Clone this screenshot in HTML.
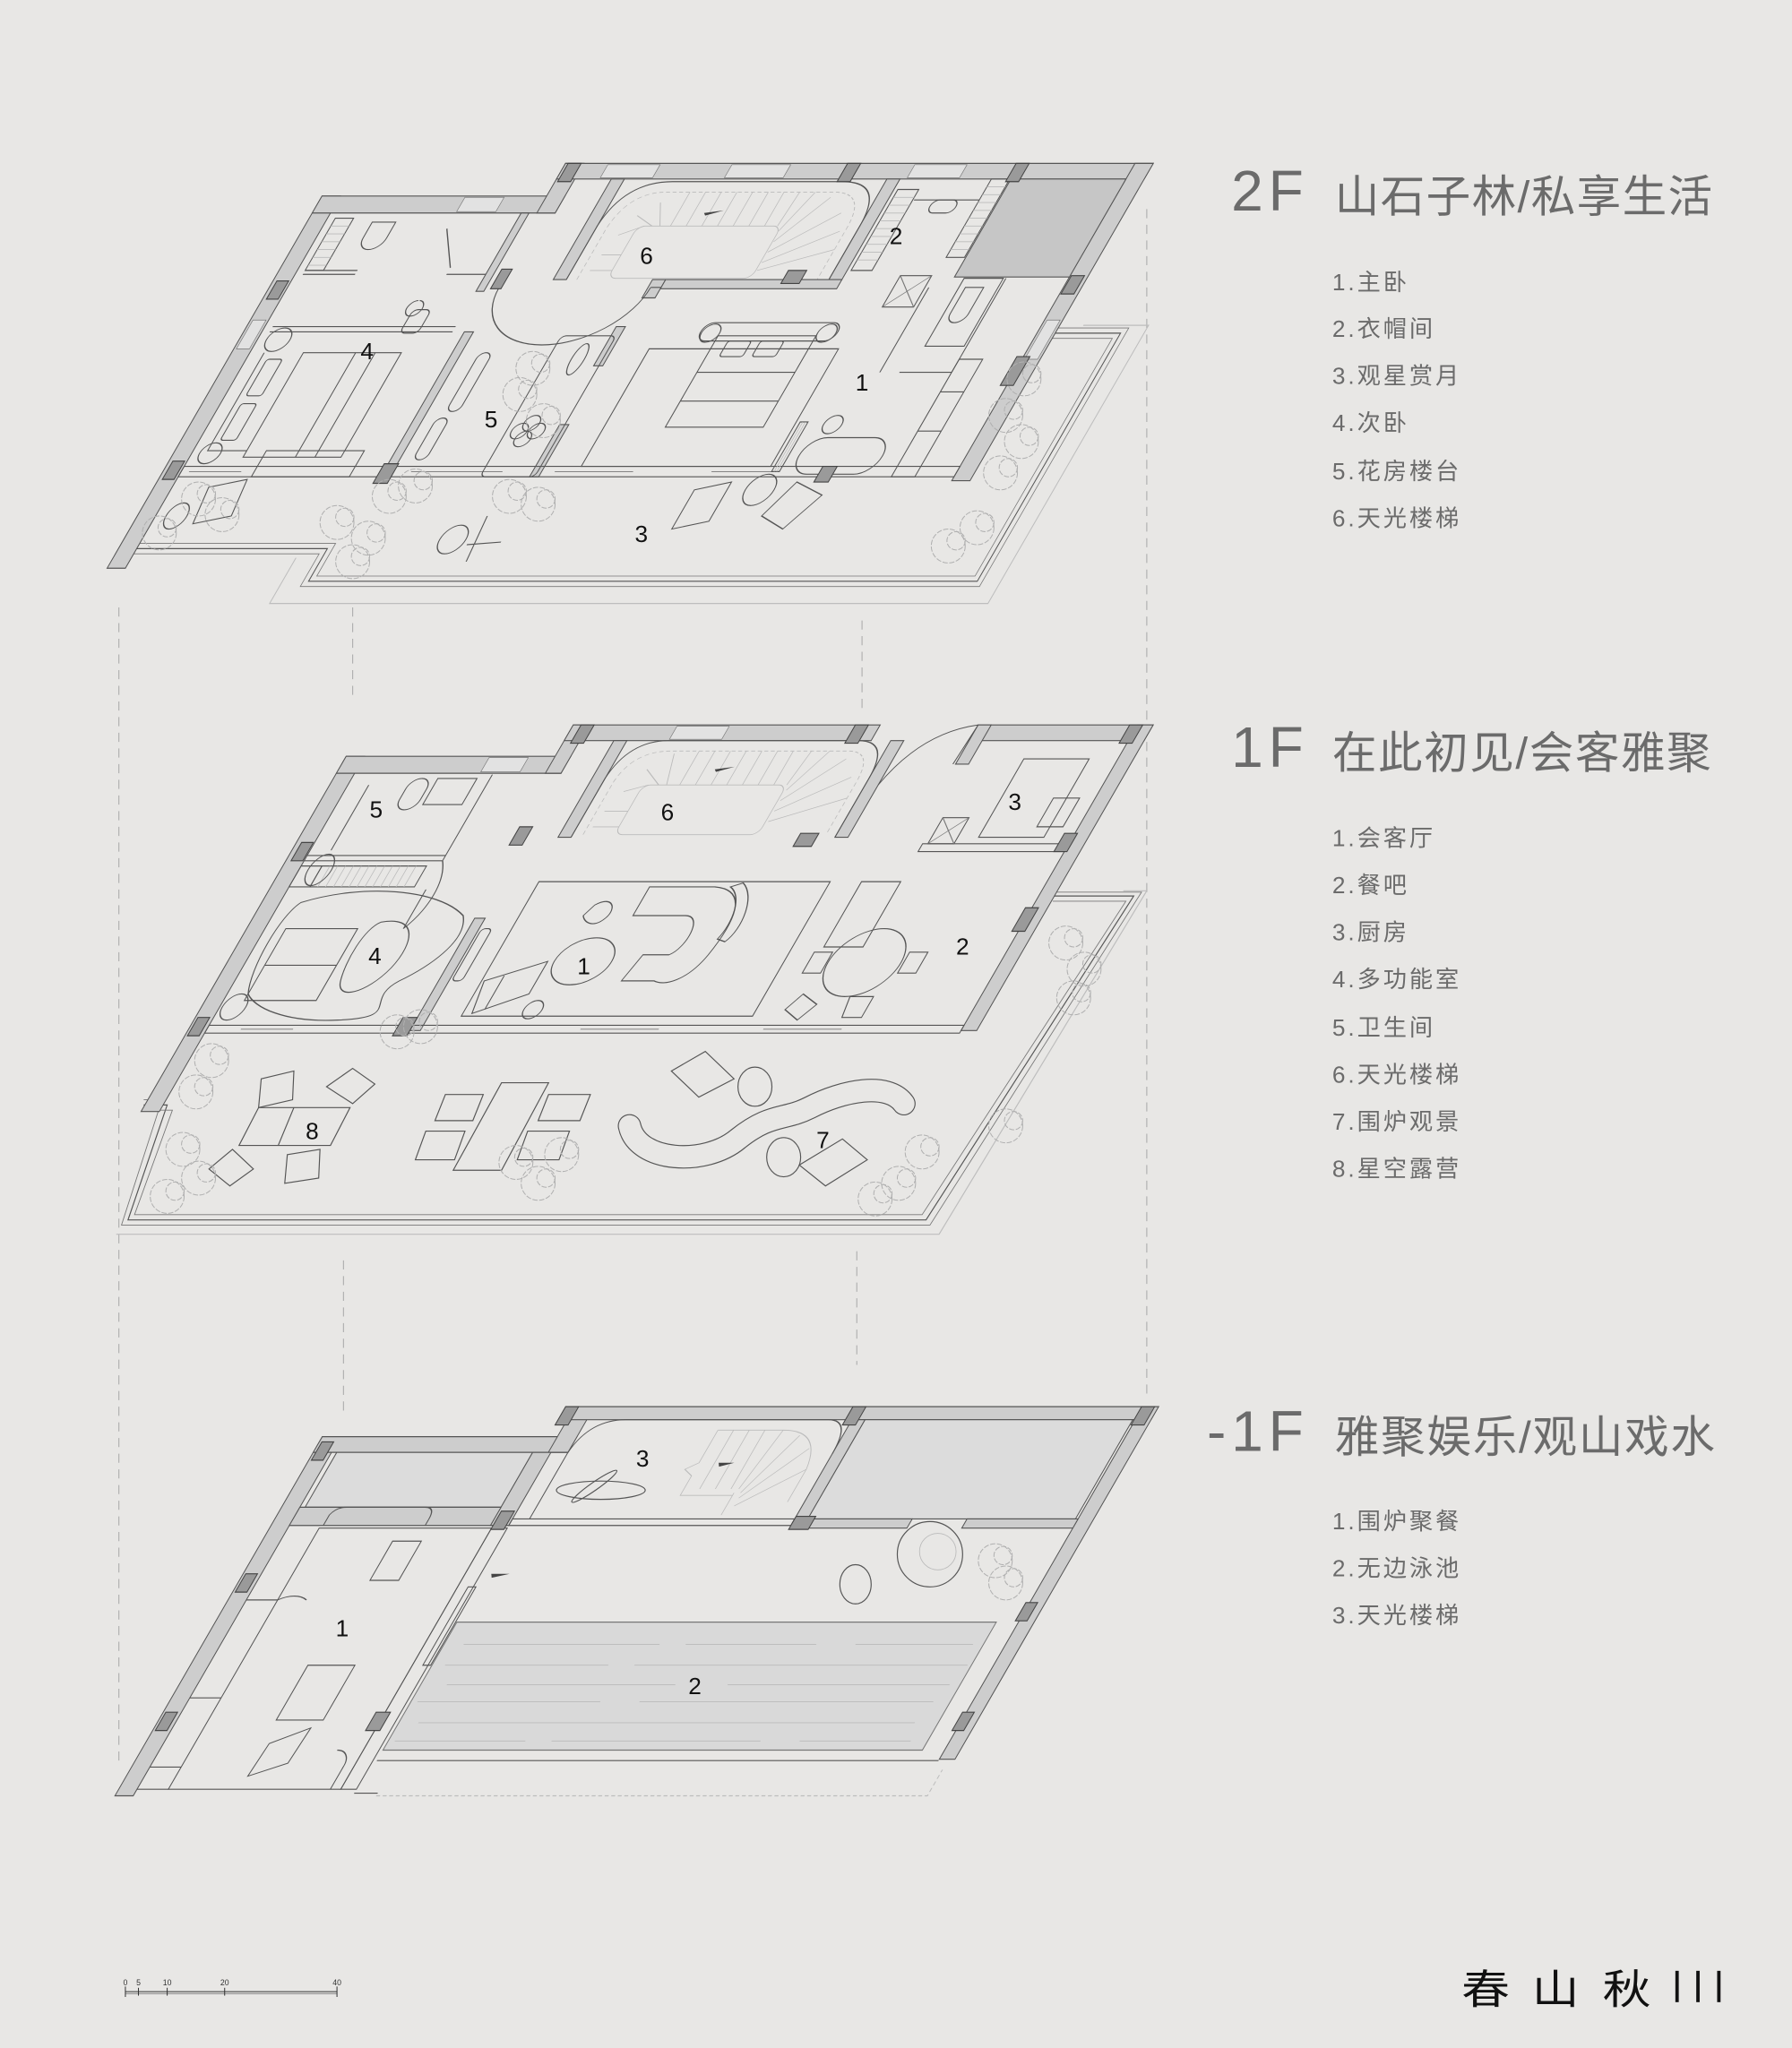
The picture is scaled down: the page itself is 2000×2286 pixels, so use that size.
<!DOCTYPE html>
<html><head><meta charset="utf-8"><style>
html,body{margin:0;padding:0;background:#e8e7e5;}
svg{display:block}
.w{fill:#cdcdcd;stroke:#555;stroke-width:.8}
.l{fill:none;stroke:#555;stroke-width:.8}
.lt{fill:none;stroke:#777;stroke-width:.6}
.f{fill:none;stroke:#bdbdbd;stroke-width:.8}
.c{fill:#9a9a9a;stroke:#444;stroke-width:.8}
.st{fill:none;stroke:#bbb;stroke-width:.6}
.win{fill:#e2e2e2;stroke:#777;stroke-width:.5}
.tr{fill:none;stroke:#b0b0b0;stroke-width:.7;stroke-dasharray:4 1.2}
.n{font-family:"Liberation Sans",sans-serif;font-size:18px;fill:#111;text-anchor:middle}
.tt{font-family:"Liberation Sans","Noto Sans CJK SC",sans-serif;fill:#6b6b6b}
.it{font-family:"Liberation Sans","Noto Sans CJK SC",sans-serif;font-size:18px;fill:#6b6b6b;letter-spacing:2px}
.dash{stroke:#b0b0b0;stroke-width:.8;stroke-dasharray:7 5;fill:none}
</style></head><body>
<svg width="2000" height="2286" viewBox="0 0 1372 1568" xmlns="http://www.w3.org/2000/svg">
<defs>
<g id="tree"><circle r="13" class="tr"/><circle cx="6" cy="-4" r="7" class="tr"/></g>
</defs>
<rect width="1372" height="1568" fill="#e8e7e5"/>

<line class="dash" x1="91" y1="465" x2="91" y2="1350"/>
<line class="dash" x1="270" y1="465" x2="270" y2="535"/>
<line class="dash" x1="660" y1="475" x2="660" y2="545"/>
<line class="dash" x1="878" y1="160" x2="878" y2="1068"/>
<line class="dash" x1="263" y1="965" x2="263" y2="1082"/>
<line class="dash" x1="656" y1="958" x2="656" y2="1045"/>

<!-- ============ 2F ============ -->
<g transform="translate(82,435) skewX(-30)">
 <path class="f" d="M140 -8 V27 H690 V-186 H640"/>
 <path class="l" d="M14 -15 H160 V10 H672 V-180 H622"/>
 <path class="lt" d="M14 -11 H156 V14 H676 V-184 H622"/>
 <path class="lt" d="M14 -19 H164 V6 H668 V-176 H622"/>
 <rect class="w" x="0" y="-285" width="14" height="285"/>
 <rect class="w" x="0" y="-285" width="186" height="13"/>
 <rect class="w" x="172" y="-310" width="14" height="38"/>
 <rect class="w" x="172" y="-310" width="450" height="12"/>
 <rect class="w" x="608" y="-310" width="14" height="243"/>
 <rect x="520" y="-298" width="88" height="75" fill="#c6c6c6" stroke="#555" stroke-width=".8"/>
 <rect class="win" x="110" y="-284" width="30" height="11"/>
 <rect class="win" x="205" y="-309" width="40" height="10"/>
 <rect class="win" x="300" y="-309" width="45" height="10"/>
 <rect class="win" x="440" y="-309" width="40" height="10"/>
 <rect class="win" x="2" y="-190" width="10" height="22"/>
 <rect class="win" x="610" y="-190" width="10" height="30"/>
 <rect class="w" x="214" y="-298" width="10" height="77"/>
 <rect class="w" x="425" y="-298" width="10" height="77"/>
 <path class="l" d="M224 -221 V-262 Q226 -296 262 -296 H392 Q425 -296 425 -262 V-221"/>
 <g class="st">
  <path d="M232 -221 V-260 Q234 -288 262 -288 H390 Q416 -288 416 -260 V-221" stroke-dasharray="3 2"/>
  <rect x="255" y="-262" width="110" height="40" rx="6"/>
  <path d="M240 -240H255M238 -228H255M244 -255L260 -262M250 -270L266 -262M262 -280L272 -262M280 -288V-262M292 -288V-262M304 -288V-262M316 -288V-262M328 -288V-262M340 -288V-262M352 -288V-262M364 -288L362 -262M376 -288L365 -258M390 -284L366 -250M405 -272L366 -242M412 -258L366 -234M416 -244L366 -228"/>
 </g>
 <path d="M300 -272 l14 -2 l-12 4z" fill="#444"/>
 <rect class="w" x="300" y="-221" width="135" height="7"/>
 <path class="w" d="M290 -221 h10 v14 h-10z"/>
 <rect class="l" x="438" y="-290" width="16" height="62"/>
 <path class="st" d="M438 -284h16M438 -278h16M438 -272h16M438 -266h16M438 -260h16M438 -254h16M438 -248h16M438 -242h16M438 -236h16"/>
 <rect class="l" x="505" y="-298" width="14" height="60"/>
 <path class="st" d="M505 -292h14M505 -286h14M505 -280h14M505 -274h14M505 -268h14M505 -262h14M505 -256h14M505 -250h14M505 -244h14"/>
 <rect class="l" x="470" y="-282" width="20" height="10" rx="5"/>
 <path class="l" d="M455 -282 H505"/>
 <rect class="l" x="478" y="-224" width="24" height="24"/>
 <path class="lt" d="M478 -224l24 24M502 -224l-24 24"/>
 <rect class="l" x="528" y="-222" width="30" height="52"/>
 <path class="l" d="M533 -215 h14 v20 a7 7 0 0 1 -14 0z"/>
 <path class="l" d="M505 -215 V-150 M560 -222 V-150 M520 -150 H560"/>
 <rect class="w" x="160" y="-272" width="6" height="60"/>
 <path class="l" d="M20 -181 H160 M20 -185 H160"/>
 <rect class="w" x="169" y="-181" width="7" height="114"/>
 <rect class="w" x="283" y="-185" width="7" height="30"/>
 <rect class="w" x="283" y="-110" width="7" height="40"/>
 <path class="l" d="M176 -215 A58 44 0 0 0 292 -215 M176 -215 V-225 M292 -215 H300"/>
 <path class="l" d="M20 -225 H60 M20 -228 H60 M130 -225 H160"/>
 <rect class="l" x="20" y="-268" width="14" height="40"/>
 <path class="st" d="M20 -262h14M20 -256h14M20 -250h14M20 -244h14M20 -238h14M20 -232h14"/>
 <path class="l" d="M50 -265 h18 v12 a6 6 0 0 1 -18 0z"/>
 <path class="l" d="M110 -260 L130 -230 M120 -205 a6 6 0 1 0 1 0"/>
 <rect class="l" x="120" y="-198" width="14" height="18" rx="4"/>
 <rect class="l" x="14" y="-78" width="594" height="8"/>
 <path class="lt" d="M20 -74 H60 M190 -74 H260 M300 -74 H360 M420 -74 H470"/>
 <rect class="l" x="55" y="-165" width="75" height="80"/>
 <rect class="l" x="30" y="-160" width="12" height="28" rx="2"/>
 <rect class="l" x="30" y="-126" width="12" height="28" rx="2"/>
 <path class="l" d="M25 -165 V-90 H55 M95 -165 V-85 M110 -165 V-85"/>
 <circle class="l" cx="30" cy="-175" r="9"/>
 <circle class="l" cx="28" cy="-88" r="8"/>
 <rect class="l" x="70" y="-90" width="75" height="20"/>
 <rect class="l" x="190" y="-165" width="10" height="45" rx="5"/>
 <rect class="l" x="186" y="-115" width="10" height="32" rx="5"/>
 <rect class="l" x="245" y="-178" width="42" height="108" rx="4"/>
 <ellipse class="l" cx="268" cy="-160" rx="5" ry="12"/>
 <g class="l"><circle cx="255" cy="-105" r="6"/><circle cx="268" cy="-105" r="6"/><circle cx="261" cy="-99" r="6"/><circle cx="261" cy="-111" r="6"/></g>
 <rect class="l" x="318" y="-168" width="145" height="90"/>
 <rect class="l" x="350" y="-188" width="105" height="14" rx="7"/>
 <circle class="l" cx="358" cy="-180" r="7"/><circle class="l" cx="447" cy="-180" r="7"/>
 <rect class="l" x="365" y="-178" width="75" height="70"/>
 <rect class="l" x="375" y="-174" width="18" height="12" rx="2"/>
 <rect class="l" x="400" y="-174" width="18" height="12" rx="2"/>
 <path class="l" d="M365 -150 H440 M365 -128 H440"/>
 <rect class="l" x="480" y="-100" width="64" height="28" rx="14"/>
 <circle class="l" cx="492" cy="-110" r="7"/>
 <rect class="l" x="466" y="-112" width="6" height="38"/>
 <path class="st" d="M468 -112V-74M470 -112V-74"/>
 <rect class="l" x="560" y="-160" width="18" height="90"/>
 <path class="l" d="M560 -135 H578 M560 -105 H578"/>
 <g class="c">
  <rect x="174" y="-310" width="10" height="14"/><rect x="388" y="-310" width="10" height="14"/><rect x="517" y="-310" width="10" height="14"/>
  <rect x="3" y="-220" width="9" height="14"/><rect x="170" y="-229" width="8" height="15"/><rect x="390" y="-228" width="14" height="10"/>
  <rect x="609" y="-224" width="10" height="14"/><rect x="603" y="-162" width="10" height="22"/><rect x="3" y="-82" width="9" height="14"/>
  <rect x="166" y="-80" width="11" height="15"/><rect x="503" y="-78" width="11" height="12"/>
 </g>
 <path class="l" d="M42 -62 L68 -68 L72 -40 L46 -34z"/>
 <ellipse class="l" cx="30" cy="-40" rx="8" ry="10"/>
 <path class="l" d="M415 -60 L440 -66 L440 -36 L415 -30z"/>
 <ellipse class="l" cx="465" cy="-60" rx="11" ry="12"/>
 <path class="l" d="M490 -66 L515 -56 L500 -30 L478 -40z"/>
 <ellipse class="l" cx="252" cy="-22" rx="10" ry="11"/>
 <path class="l" d="M268 -40 L272 -5 M265 -18 L290 -20"/>
</g>
<g>
<use href="#tree" x="408" y="282"/><use href="#tree" x="398" y="302"/><use href="#tree" x="416" y="322"/>
<use href="#tree" x="390" y="380"/><use href="#tree" x="412" y="386"/>
<use href="#tree" x="152" y="382"/><use href="#tree" x="170" y="394"/><use href="#tree" x="122" y="408"/>
<use href="#tree" x="258" y="400"/><use href="#tree" x="282" y="412"/><use href="#tree" x="270" y="430"/>
<use href="#tree" x="784" y="290"/><use href="#tree" x="770" y="318"/><use href="#tree" x="782" y="338"/><use href="#tree" x="766" y="362"/>
<use href="#tree" x="726" y="418"/><use href="#tree" x="748" y="404"/><use href="#tree" x="298" y="380"/><use href="#tree" x="318" y="372"/>
</g>
<text class="n" x="660" y="299">1</text><text class="n" x="686" y="187">2</text><text class="n" x="491" y="415">3</text>
<text class="n" x="281" y="275">4</text><text class="n" x="376" y="327">5</text><text class="n" x="495" y="202">6</text>

<!-- ============ 1F ============ -->
<path class="f" d="M89 945 H719 L878 682 H860"/>
<path class="l" d="M110 846 H128 L98 934 H709 L868 686 H806"/>
<path class="lt" d="M110 842 H124 L93 938 H712 L874 683 H806"/>
<path class="lt" d="M112 850 H132 L103 930 H706 L862 690 H806"/>
<g transform="translate(108,851) skewX(-30)">
 <rect class="w" x="0" y="-272" width="14" height="272"/>
 <rect class="w" x="0" y="-272" width="172" height="13"/>
 <rect class="w" x="160" y="-296" width="12" height="37"/>
 <rect class="w" x="160" y="-296" width="235" height="12"/>
 <rect class="win" x="110" y="-271" width="30" height="11"/>
 <rect class="win" x="240" y="-295" width="40" height="10"/>
 <rect class="w" x="470" y="-296" width="134" height="12"/>
 <rect class="w" x="470" y="-296" width="10" height="30"/>
 <rect class="w" x="592" y="-296" width="12" height="234"/>
 <rect class="l" x="480" y="-205" width="112" height="6"/>
 <rect class="w" x="198" y="-284" width="10" height="74"/>
 <rect class="w" x="410" y="-284" width="10" height="74"/>
 <path class="l" d="M208 -210 V-255 Q210 -284 240 -284 H385 Q410 -284 410 -255 V-210"/>
 <g class="st">
  <path d="M216 -212 V-252 Q218 -276 246 -276 H382 Q402 -276 402 -252 V-212" stroke-dasharray="3 2"/>
  <rect x="240" y="-250" width="110" height="38" rx="6"/>
  <path d="M222 -230H240M220 -218H240M228 -245L244 -250M236 -262L252 -250M250 -274L258 -250M268 -276V-250M280 -276V-250M292 -276V-250M304 -276V-250M316 -276V-250M328 -276V-250M340 -276V-250M354 -276L350 -250M368 -276L352 -246M384 -270L352 -238M396 -256L352 -230M402 -240L352 -222"/>
 </g>
 <path d="M288 -262 l14 -2 l-12 4z" fill="#444"/>
 <path class="l" d="M420 -250 Q430 -290 470 -296 M470 -296 L468 -266"/>
 <rect class="l" x="520" y="-270" width="50" height="60"/>
 <rect class="l" x="560" y="-240" width="20" height="22"/>
 <rect class="l" x="484" y="-225" width="20" height="20"/>
 <path class="lt" d="M484 -225l20 20M504 -225l-20 20"/>
 <path class="l" d="M14 -192 H120 M14 -196 H120 M120 -258 V-192"/>
 <rect class="l" x="60" y="-255" width="16" height="24" rx="8"/>
 <rect class="l" x="80" y="-255" width="30" height="20"/>
 <path class="l" d="M30 -250 V-200"/>
 <rect class="l" x="30" y="-188" width="80" height="16"/>
 <path class="st" d="M36 -188v16M42 -188v16M48 -188v16M54 -188v16M60 -188v16M66 -188v16M72 -188v16M78 -188v16M84 -188v16M90 -188v16M96 -188v16M102 -188v16"/>
 <rect class="l" x="14" y="-188" width="16" height="16"/>
 <path class="l" d="M120 -192 A45 45 0 0 1 120 -140 M120 -170 V-140"/>
 <rect class="w" x="170" y="-148" width="8" height="86"/>
 <rect class="l" x="180" y="-140" width="8" height="40" rx="3"/>
 <rect class="l" x="14" y="-66" width="578" height="6"/>
 <path class="lt" d="M40 -63 H80 M300 -63 H360 M440 -63 H500"/>
 <path class="l" d="M30 -160 C70 -175 130 -170 160 -150 C175 -130 155 -110 140 -100 C120 -85 160 -72 110 -70 C70 -68 40 -80 30 -90 C20 -110 20 -150 30 -160z"/>
 <rect class="l" x="30" y="-140" width="55" height="55"/>
 <path class="l" d="M30 -112 H85"/>
 <path class="l" d="M100 -145 C125 -150 135 -130 128 -110 C120 -90 100 -85 95 -100 C90 -115 90 -140 100 -145z"/>
 <ellipse class="l" cx="30" cy="-185" rx="9" ry="12"/>
 <ellipse class="l" cx="25" cy="-80" rx="9" ry="10"/>
 <rect class="l" x="203" y="-176" width="223" height="103"/>
 <path class="l" d="M290 -172 H340 C365 -170 372 -150 365 -120 C360 -100 345 -96 335 -100 L310 -100 L315 -120 L335 -120 C345 -125 345 -150 330 -150 H290z"/>
 <path class="l" d="M360 -175 C375 -165 380 -140 372 -130 L365 -132 C370 -145 365 -165 352 -172z"/>
 <path class="l" d="M256 -158 C266 -166 275 -155 270 -148 C265 -140 255 -145 252 -150z"/>
 <ellipse class="l" cx="272" cy="-115" rx="22" ry="18"/>
 <path class="l" d="M205 -100 L245 -115 L245 -90 L210 -75z M218 -104 L218 -78"/>
 <circle class="l" cx="255" cy="-78" r="7"/>
 <rect class="l" x="450" y="-176" width="30" height="50"/>
 <ellipse class="l" cx="488" cy="-114" rx="28" ry="26"/>
 <rect class="l" x="445" y="-122" width="14" height="16"/>
 <rect class="l" x="518" y="-122" width="14" height="16"/>
 <path class="l" d="M455 -90 L470 -82 L462 -70 L448 -78z M492 -88 L510 -88 L510 -72 L495 -72z"/>
 <g class="c">
  <rect x="166" y="-296" width="10" height="14"/><rect x="376" y="-296" width="10" height="14"/><rect x="586" y="-296" width="10" height="14"/>
  <rect x="164" y="-218" width="10" height="14"/><rect x="382" y="-213" width="14" height="10"/><rect x="584" y="-213" width="10" height="14"/>
  <rect x="4" y="-206" width="9" height="14"/><rect x="587" y="-156" width="10" height="18"/><rect x="2" y="-72" width="9" height="14"/>
  <rect x="159" y="-72" width="11" height="14"/>
 </g>
</g>
<g class="l">
 <path d="M183 877 L198 848 L268 848 L253 877z M225 848 L213 877"/>
 <path d="M200 826 L225 820 L224 842 L198 848z"/>
 <path d="M250 832 L270 818 L287 830 L270 845z"/>
 <path d="M160 895 L178 880 L194 895 L176 908z"/>
 <path d="M220 884 L245 880 L244 902 L218 906z"/>
 <path d="M384 829 L420 829 L384 896 L347 896z"/>
 <path d="M341 838 L370 838 L362 858 L333 858z"/>
 <path d="M420 838 L452 838 L444 858 L412 858z"/>
 <path d="M326 866 L356 866 L348 888 L318 888z"/>
 <path d="M404 866 L436 866 L428 888 L396 888z"/>
 <path d="M514 820 L540 805 L562 826 L535 840z"/>
 <ellipse cx="578" cy="832" rx="13" ry="15"/>
 <ellipse cx="600" cy="886" rx="13" ry="15"/>
 <path d="M612 892 L645 872 L664 888 L632 908z"/>
</g>
<path d="M482 862 C488 890 540 893 565 872 C590 852 600 858 620 848 C645 835 680 828 692 845" fill="none" stroke="#555" stroke-width="18" stroke-linecap="round"/>
<path d="M482 862 C488 890 540 893 565 872 C590 852 600 858 620 848 C645 835 680 828 692 845" fill="none" stroke="#e8e7e5" stroke-width="16.4" stroke-linecap="round"/>
<g>
<use href="#tree" x="304" y="790"/><use href="#tree" x="322" y="786"/>
<use href="#tree" x="162" y="812"/><use href="#tree" x="150" y="836"/>
<use href="#tree" x="140" y="880"/><use href="#tree" x="152" y="902"/><use href="#tree" x="128" y="916"/>
<use href="#tree" x="395" y="890"/><use href="#tree" x="430" y="884"/><use href="#tree" x="412" y="906"/>
<use href="#tree" x="688" y="906"/><use href="#tree" x="670" y="918"/>
<use href="#tree" x="816" y="722"/><use href="#tree" x="830" y="742"/><use href="#tree" x="822" y="764"/>
<use href="#tree" x="770" y="862"/><use href="#tree" x="706" y="882"/>
</g>
<text class="n" x="447" y="746">1</text><text class="n" x="737" y="731">2</text><text class="n" x="777" y="620">3</text>
<text class="n" x="287" y="738">4</text><text class="n" x="288" y="626">5</text><text class="n" x="511" y="628">6</text>
<text class="n" x="630" y="879">7</text><text class="n" x="239" y="872">8</text>

<!-- ============ -1F ============ -->
<g transform="translate(88,1375) skewX(-30)">
 <path class="f" d="M200 0 H622 V-20" stroke-dasharray="3 2"/>
 <rect class="w" x="0" y="-275" width="14" height="275"/>
 <rect class="w" x="0" y="-275" width="195" height="12"/>
 <rect class="w" x="180" y="-298" width="15" height="35"/>
 <rect class="w" x="180" y="-298" width="447" height="10"/>
 <rect class="w" x="615" y="-298" width="12" height="270"/>
 <rect x="18" y="-263" width="150" height="42" fill="#dcdcdc" stroke="#555" stroke-width=".8"/>
 <rect class="w" x="168" y="-263" width="14" height="56"/>
 <rect x="408" y="-288" width="205" height="76" fill="#dcdcdc" stroke="#555" stroke-width=".8"/>
 <rect class="w" x="398" y="-288" width="10" height="80"/>
 <path class="l" d="M195 -212 V-262 Q197 -288 225 -288 H380 Q398 -288 398 -262"/>
 <rect class="w" x="14" y="-221" width="154" height="14"/>
 <path class="l" d="M40 -207 V-215 Q42 -221 50 -221 H110 Q118 -221 118 -212 V-207"/>
 <rect class="l" x="182" y="-212" width="216" height="5"/>
 <rect class="w" x="408" y="-212" width="80" height="7"/>
 <rect class="w" x="530" y="-212" width="85" height="7"/>
 <g class="st">
  <path d="M300 -280 H350 Q380 -280 385 -250 V-225 M300 -280 V-255 L292 -250 L300 -245 V-230 H340 M312 -280 V-235 M324 -280 V-235 M336 -280 V-235 M350 -280 L342 -235 M365 -276 L345 -232 M378 -266 L346 -228 M385 -250 L346 -222 M340 -232 V-215"/>
 </g>
 <path d="M315 -255 l12 0 l-10 3z" fill="#444"/>
 <rect class="l" x="170" y="-205" width="12" height="200"/>
 <rect class="l" x="38" y="-205" width="132" height="200"/>
 <path class="l" d="M14 -5 H38 M14 -22 H38 M14 -75 H38 M14 -150 H38"/>
 <path class="l" d="M38 -150 A22 22 0 0 1 60 -150"/>
 <rect class="l" x="100" y="-195" width="22" height="30"/>
 <rect class="l" x="90" y="-100" width="36" height="42"/>
 <path class="l" d="M95 -40 L120 -52 L118 -25 L93 -15z"/>
 <path class="l" d="M150 -35 A12 12 0 0 1 162 -22 V-5"/>
 <rect class="l" x="178" y="-160" width="6" height="60"/>
 <path d="M190 -170 l14 0 l-12 3z" fill="#444"/>
 <rect x="185" y="-133" width="413" height="98" fill="#d9d9d9" stroke="#777" stroke-width=".8"/>
 <g class="st">
  <path d="M200 -116 H350 M370 -116 H470 M500 -116 H590 M195 -100 H320 M340 -100 H595 M205 -85 H380 M420 -85 H590 M190 -72 H330 M360 -72 H585 M200 -56 H580 M190 -42 H290 M310 -42 H470 M500 -42 H585"/>
 </g>
 <path class="l" d="M185 -27 H615 M182 -2 H200"/>
 <g class="c">
  <rect x="173" y="-298" width="10" height="14"/><rect x="393" y="-298" width="10" height="14"/><rect x="614" y="-298" width="10" height="14"/>
  <rect x="2" y="-271" width="9" height="14"/><rect x="170" y="-218" width="10" height="14"/><rect x="398" y="-214" width="15" height="10"/>
  <rect x="2" y="-170" width="9" height="14"/><rect x="612" y="-148" width="9" height="14"/><rect x="2" y="-64" width="9" height="14"/>
  <rect x="163" y="-64" width="11" height="14"/><rect x="612" y="-64" width="9" height="14"/>
 </g>
</g>
<ellipse class="l" cx="460" cy="1141" rx="34" ry="7"/>
<ellipse class="l" cx="455" cy="1138" rx="3" ry="21" transform="rotate(55 455 1138)"/>
<ellipse class="l" cx="655" cy="1213" rx="12" ry="15"/>
<circle class="l" cx="712" cy="1190" r="25"/>
<circle class="st" cx="718" cy="1188" r="14"/>
<use href="#tree" x="762" y="1195"/><use href="#tree" x="770" y="1212"/>
<text class="n" x="262" y="1253">1</text><text class="n" x="532" y="1297">2</text><text class="n" x="492" y="1123">3</text>

<!-- ============ TEXT ============ -->
<text class="tt" x="1002" y="161" font-size="44" text-anchor="end" letter-spacing="4">2F</text>
<text class="tt" x="1022" y="162" font-size="34" textLength="289" lengthAdjust="spacing">山石子林/私享生活</text>
<text class="it" x="1020" y="222">1.主卧</text>
<text class="it" x="1020" y="258">2.衣帽间</text>
<text class="it" x="1020" y="294">3.观星赏月</text>
<text class="it" x="1020" y="330">4.次卧</text>
<text class="it" x="1020" y="367">5.花房楼台</text>
<text class="it" x="1020" y="403">6.天光楼梯</text>

<text class="tt" x="1002" y="587" font-size="44" text-anchor="end" letter-spacing="4">1F</text>
<text class="tt" x="1020" y="588" font-size="34" textLength="290" lengthAdjust="spacing">在此初见/会客雅聚</text>
<text class="it" x="1020" y="648">1.会客厅</text>
<text class="it" x="1020" y="684">2.餐吧</text>
<text class="it" x="1020" y="720">3.厨房</text>
<text class="it" x="1020" y="756">4.多功能室</text>
<text class="it" x="1020" y="793">5.卫生间</text>
<text class="it" x="1020" y="829">6.天光楼梯</text>
<text class="it" x="1020" y="865">7.围炉观景</text>
<text class="it" x="1020" y="901">8.星空露营</text>

<text class="tt" x="1002" y="1111" font-size="44" text-anchor="end" letter-spacing="4">-1F</text>
<text class="tt" x="1022" y="1112" font-size="34" textLength="291" lengthAdjust="spacing">雅聚娱乐/观山戏水</text>
<text class="it" x="1020" y="1171">1.围炉聚餐</text>
<text class="it" x="1020" y="1207">2.无边泳池</text>
<text class="it" x="1020" y="1243">3.天光楼梯</text>

<g stroke="#333" stroke-width=".7">
 <line x1="96" y1="1525" x2="258" y2="1525"/>
 <line x1="96" y1="1526.5" x2="258" y2="1526.5" stroke="#888"/>
 <line x1="96" y1="1521" x2="96" y2="1529"/><line x1="106" y1="1522" x2="106" y2="1528"/>
 <line x1="128" y1="1522" x2="128" y2="1528"/><line x1="172" y1="1522" x2="172" y2="1528"/><line x1="258" y1="1521" x2="258" y2="1529"/>
</g>
<g font-family="Liberation Sans,sans-serif" font-size="6" fill="#333" text-anchor="middle">
 <text x="96" y="1520">0</text><text x="106" y="1520">5</text><text x="128" y="1520">10</text><text x="172" y="1520">20</text><text x="258" y="1520">40</text>
</g>
<g font-family="Liberation Sans,'Noto Sans CJK SC',sans-serif" font-size="31" fill="#111">
 <text x="1119" y="1534" textLength="37" lengthAdjust="spacingAndGlyphs">春</text>
 <text x="1173" y="1534" textLength="36" lengthAdjust="spacingAndGlyphs">山</text>
 <text x="1227" y="1534" textLength="37" lengthAdjust="spacingAndGlyphs">秋</text>
</g>
<g stroke="#111" stroke-width="2.6">
 <line x1="1284" y1="1509" x2="1284" y2="1533"/><line x1="1300" y1="1509" x2="1300" y2="1533"/><line x1="1316" y1="1509" x2="1316" y2="1533"/>
</g>
</svg>
</body></html>
